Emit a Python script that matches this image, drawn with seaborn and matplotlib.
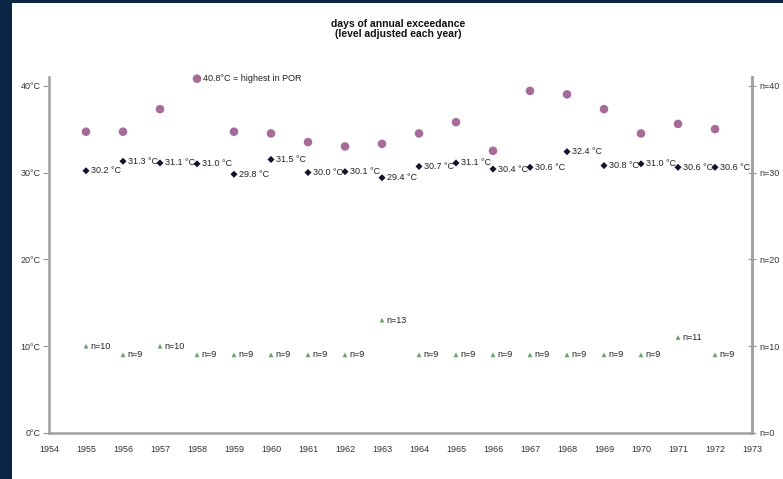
import matplotlib.pyplot as plt
import matplotlib.patches as mpatches
import pandas as pd
import seaborn as sns

# ---- data ----
years = list(range(1955, 1973))
highest = [34.7, 34.7, 37.3, 40.8, 34.7, 34.5, 33.5, 33.0, 33.3, 34.5,
           35.8, 32.5, 39.4, 39.0, 37.3, 34.5, 35.6, 35.0]
level = [30.2, 31.3, 31.1, 31.0, 29.8, 31.5, 30.0, 30.1, 29.4, 30.7,
         31.1, 30.4, 30.6, 32.4, 30.8, 31.0, 30.6, 30.6]
n_days = [10, 9, 10, 9, 9, 9, 9, 9, 13, 9, 9, 9, 9, 9, 9, 9, 11, 9]
xticks = list(range(1954, 1974))
left_ticks = [0, 10, 20, 30, 40]
left_labels = ['0°C', '10°C', '20°C', '30°C', '40°C']
right_labels = ['n=0', 'n=10', 'n=20', 'n=30', 'n=40']

df = pd.DataFrame({'year': years, 'highest': highest, 'level': level, 'n': n_days})

sns.set_style("white")
plt.rcParams['font.family'] = ['Liberation Sans', 'DejaVu Sans']

fig = plt.figure(figsize=(7.83, 4.79), dpi=100, facecolor='#0b2545')
# white page on the dark frame
fig.patches.append(mpatches.Rectangle((12 / 783, 0), 1, 1 - 3 / 479,
                                      transform=fig.transFigure, facecolor='white',
                                      edgecolor='none', zorder=-10))
ax = fig.add_axes([49 / 783, 1 - 433 / 479, (752 - 49) / 783, (433 - 77) / 479])
ax.set_facecolor('none')

sns.scatterplot(data=df, x='year', y='highest', ax=ax, color='#a66b98', s=38,
                edgecolor='none', marker='o', zorder=3, clip_on=False)
sns.scatterplot(data=df, x='year', y='level', ax=ax, color='#12142e', s=13,
                edgecolor='none', marker='D', zorder=3)
sns.scatterplot(data=df, x='year', y='n', ax=ax, color='#6aa46a', s=12,
                edgecolor='none', marker='^', zorder=3)

lab_fs = 6.5
for yr, v in zip(years, level):
    ax.annotate(f'{v:.1f} °C', (yr, v), xytext=(3.5, 0), textcoords='offset points',
                fontsize=lab_fs, va='center', ha='left', color='#222222')
for yr, v in zip(years, n_days):
    ax.annotate(f'n={v}', (yr, v), xytext=(3.5, 0), textcoords='offset points',
                fontsize=lab_fs, va='center', ha='left', color='#222222')
i_max = highest.index(max(highest))
ax.annotate(f'{highest[i_max]:.1f}°C = highest in POR', (years[i_max], highest[i_max]),
            xytext=(4.5, 0), textcoords='offset points', fontsize=lab_fs, va='center',
            ha='left', color='#222222')

ax.set_xlim(1954, 1973)
ax.set_ylim(0, 41.0)
ax.set_xticks(xticks)
ax.set_xticklabels([str(x) for x in xticks], fontsize=6.5, color='#333333')
ax.set_yticks(left_ticks)
ax.set_yticklabels(left_labels, fontsize=6.5, color='#333333')
ax.set_xlabel('')
ax.set_ylabel('')
ax.tick_params(axis='x', direction='inout', length=4, width=0.8, color='#999999', pad=7)
ax.tick_params(axis='y', direction='out', length=4, width=0.8, color='#999999', pad=2)
for side in ['left', 'bottom', 'right']:
    ax.spines[side].set_color('#a0a0a0')
    ax.spines[side].set_linewidth(1.8)
ax.spines['top'].set_visible(False)

ax2 = ax.twinx()
ax2.set_ylim(0, 41.0)
ax2.set_yticks(left_ticks)
ax2.set_yticklabels(right_labels, fontsize=6.5, color='#333333')
ax2.tick_params(axis='y', direction='inout', length=6, width=0.8, color='#999999', pad=2)
for side in ['left', 'bottom', 'top']:
    ax2.spines[side].set_visible(False)
ax2.spines['right'].set_color('#a0a0a0')
ax2.spines['right'].set_linewidth(1.8)

fig.text(398 / 783, 1 - 29 / 479, 'days of annual exceedance\n(level adjusted each year)',
         ha='center', va='center', fontsize=7.5, fontweight='bold', color='#111111',
         linespacing=1.05)

fig.savefig('out.png', dpi=100, facecolor=fig.get_facecolor())
